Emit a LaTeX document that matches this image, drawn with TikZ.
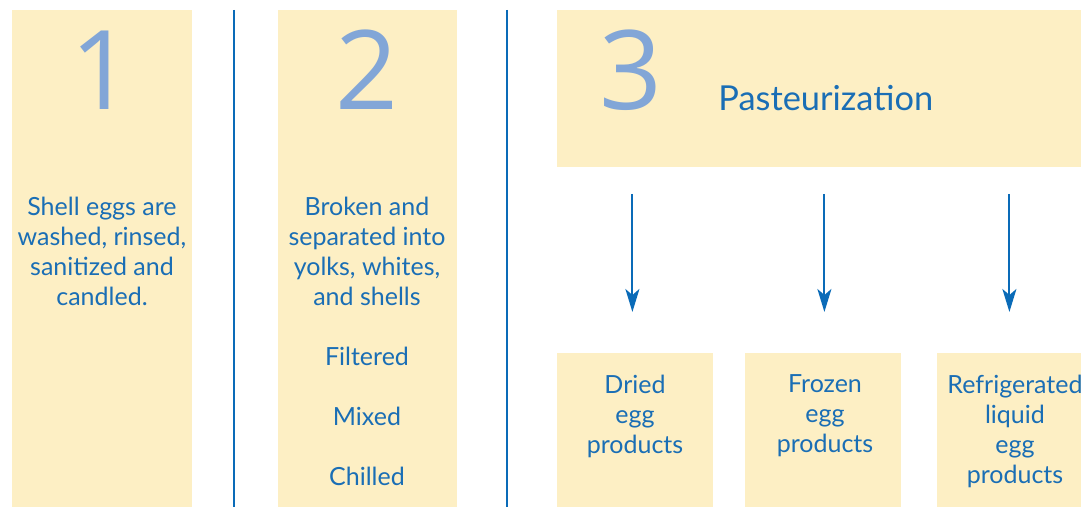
\documentclass[tikz,border=0pt]{standalone}
\usepackage{fontspec}
\setmainfont{Lato}
\newfontfamily\numfont{Open Sans}
\usetikzlibrary{arrows.meta}
\definecolor{eggyellow}{HTML}{FDEFC4}
\definecolor{textblue}{HTML}{1A6EB5}
\definecolor{numblue}{HTML}{82A6D7}
\definecolor{lineblue}{HTML}{0A6BB8}

\begin{document}
\begin{tikzpicture}[x=0.5pt,y=-0.5pt,
    panel/.style={fill=eggyellow,draw=none,anchor=north west,inner sep=0pt},
    bignum/.style={text=numblue,font=\numfont\fontsize{55}{60}\selectfont,inner sep=0pt},
    steptext/.style={text=textblue,font=\fontsize{12.5}{15}\selectfont,align=center,inner sep=0pt},
    divider/.style={draw=lineblue,line width=0.8pt},
    flow/.style={draw=lineblue,line width=1pt,-{Stealth[length=11.5pt,width=7pt,inset=3pt]},
        shorten <=13pt,shorten >=20.5pt}]
    \clip (0,0) rectangle (1081,507);

    % Schritt 1
    \node[panel,minimum width=90pt,minimum height=248.5pt] (col1) at (12,10) {};
    \node[bignum] (num1) at (102,70) {1};
    \node[steptext] (wash) at (102,251) {Shell eggs are\\washed, rinsed,\\sanitized and\\candled.};

    % Trennlinien
    \coordinate (divA) at (234,10);
    \coordinate (divB) at (507,10);
    \draw[divider] (divA) -- (divA |- 0,507);
    \draw[divider] (divB) -- (divB |- 0,507);

    % Schritt 2
    \node[panel,minimum width=89.5pt,minimum height=248.5pt] (col2) at (278,10) {};
    \node[bignum] (num2) at (367,70) {2};
    \node[steptext] (broken) at (367,251) {Broken and\\separated into\\yolks, whites,\\and shells};
    \node[steptext] (filtered) at (367,356) {Filtered};
    \node[steptext] (mixed) at (367,416) {Mixed};
    \node[steptext] (chilled) at (367,476) {Chilled};

    % Schritt 3
    \node[panel,minimum width=270pt,minimum height=78.5pt] (col3) at (557,10) {};
    \node[bignum] (num3) at (631,70) {3};
    \node[steptext,anchor=west,font=\fontsize{17.2}{20}\selectfont] (pasteur) at (718,98) {Pasteurization};

    % Produkte
    \node[panel,minimum width=78pt,minimum height=77pt] (dried) at (557,353) {};
    \node[panel,minimum width=78pt,minimum height=77pt] (frozen) at (745,353) {};
    \node[panel,minimum width=78pt,minimum height=77pt] (liquid) at (937,353) {};
    \node[steptext] (driedtext) at (635,416) {Dried\\egg\\products};
    \node[steptext] (frozentext) at (825,416) {Frozen\\egg\\products};
    \node[steptext] (liquidtext) at (1015,431) {Refrigerated\\liquid\\egg\\products};

    % Pfeile
    \coordinate (tipA) at ([xshift=-1.5pt]dried.north);
    \coordinate (tipB) at ([xshift=0.5pt]frozen.north);
    \coordinate (tipC) at ([xshift=-3pt]liquid.north);
    \draw[flow] (col3.south -| tipA) -- (tipA);
    \draw[flow] (col3.south -| tipB) -- (tipB);
    \draw[flow] (col3.south -| tipC) -- (tipC);
\end{tikzpicture}
\end{document}
